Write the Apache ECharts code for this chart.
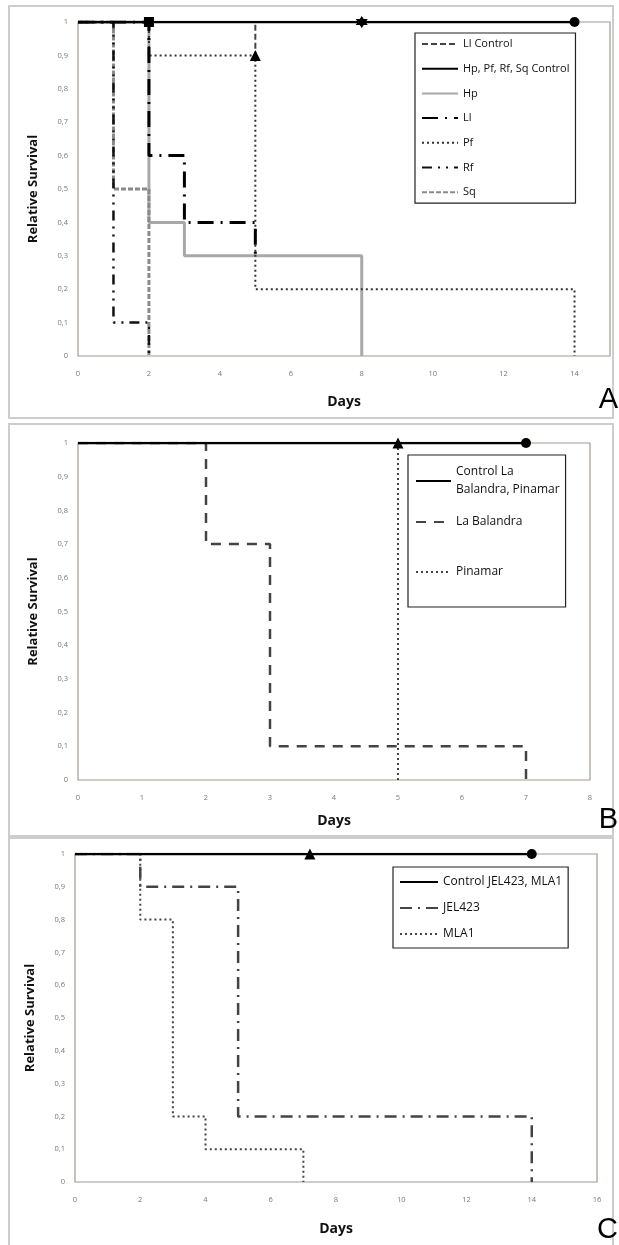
<!DOCTYPE html>
<html>
    <head>
        <meta charset="utf-8">
        <script src="https://cdn.jsdelivr.net/npm/echarts@6/dist/echarts.min.js"></script>
    </head>
    <body style="margin:0">
        <style>
            html, body, #main {
                width: 619px;
                height: 1245px;
                background: #fff;
            }
        </style>
        <div id="main"></div>
        <script>
            // y tick labels (comma decimals, as in the figure)
            var yTickLabels = ['0', '0,1', '0,2', '0,3', '0,4', '0,5', '0,6', '0,7', '0,8', '0,9', '1'];

            // Panel A  [day, relative survival]
            var aNames = ['Ll Control', 'Hp, Pf, Rf, Sq Control', 'Hp', 'Ll', 'Pf', 'Rf', 'Sq'];
            var aLlControl = [[0, 1], [5, 0.9]];
            var aControl = [[0, 1], [2, 1], [8, 1], [14, 1]];
            var aHp = [[0, 1], [2, 0.4], [3, 0.3], [8, 0]];
            var aLl = [[0, 1], [2, 0.6], [3, 0.4], [5, 0.3]];
            var aPf = [[0, 1], [2, 0.9], [5, 0.2], [14, 0]];
            var aRf = [[0, 1], [1, 0.1], [2, 0]];
            var aSq = [[0, 1], [1, 0.5], [2, 0]];

            // Panel B
            var bNames = ['Control La Balandra, Pinamar', 'La Balandra', 'Pinamar'];
            var bControl = [[0, 1], [5, 1], [7, 1]];
            var bBalandra = [[0, 1], [2, 0.7], [3, 0.1], [7, 0]];
            var bPinamar = [[0, 1], [5, 0]];

            // Panel C
            var cNames = ['Control JEL423, MLA1', 'JEL423', 'MLA1'];
            var cControl = [[0, 1], [7.2, 1], [14, 1]];
            var cJel = [[0, 1], [2, 0.9], [5, 0.2], [14, 0]];
            var cMla = [[0, 1], [2, 0.8], [3, 0.2], [4, 0.1], [7, 0]];

            var star6 = 'path://M0,-10L2.9,-5L8.7,-5L5.8,0L8.7,5L2.9,5L0,10L-2.9,5L-8.7,5L-5.8,0L-8.7,-5L-2.9,-5Z';

            // marks: {pointIndex: [symbol, size]}
            function withMarks(points, marks) {
                return points.map(function (p, i) {
                    var m = marks && marks[i];
                    if (!m) {
                        return {value: p, symbol: 'none'};
                    }
                    return {value: p, symbol: m[0], symbolSize: m[1], itemStyle: {color: '#000'}};
                });
            }

            function line(name, gi, points, style, marks) {
                return {
                    type: 'line',
                    name: name,
                    xAxisIndex: gi,
                    yAxisIndex: gi,
                    step: 'end',
                    symbol: 'none',
                    showSymbol: true,
                    color: style.color,
                    lineStyle: style,
                    data: withMarks(points, marks),
                    silent: true
                };
            }

            var grids = [
                {left: 78, top: 22, width: 532, height: 334},
                {left: 78, top: 443, width: 512, height: 337},
                {left: 75, top: 854, width: 522, height: 328}
            ];
            var xMax = [15, 8, 16];
            var xStep = [2, 1, 2];
            var nameGapX = [39, 34, 40];

            var chart = echarts.init(document.getElementById('main'), null, {renderer: 'canvas'});

            var labelFont = {color: '#777', fontSize: 7.5, fontFamily: 'Open Sans'};
            var nameFont = {color: '#111', fontSize: 14, fontWeight: 'bold', fontFamily: 'Open Sans'};
            // hide the symbol that ECharts puts in the middle of line legend icons
            var noLegendSymbol = {color: 'rgba(0,0,0,0)', borderWidth: 0, opacity: 0};

            chart.setOption({
                animation: false,
                grid: grids.map(function (g) {
                    return Object.assign({show: true, borderColor: '#a49a92', borderWidth: 1.2, backgroundColor: '#fff'}, g);
                }),
                xAxis: grids.map(function (g, i) {
                    return {
                        type: 'value',
                        gridIndex: i,
                        min: 0,
                        max: xMax[i],
                        interval: xStep[i],
                        name: 'Days',
                        nameLocation: 'middle',
                        nameGap: nameGapX[i],
                        nameTextStyle: nameFont,
                        axisLine: {show: false},
                        axisTick: {show: false},
                        splitLine: {show: false},
                        axisLabel: Object.assign({margin: 14, showMaxLabel: xMax[i] % xStep[i] === 0}, labelFont)
                    };
                }),
                yAxis: grids.map(function (g, i) {
                    return {
                        type: 'value',
                        gridIndex: i,
                        min: 0,
                        max: 1,
                        interval: 0.1,
                        name: 'Relative Survival',
                        nameLocation: 'middle',
                        nameGap: 38,
                        nameTextStyle: Object.assign({}, nameFont, {fontSize: 13}),
                        axisLine: {show: false},
                        axisTick: {show: false},
                        splitLine: {show: false},
                        axisLabel: Object.assign({
                            margin: 10,
                            formatter: function (v) {
                                return yTickLabels[Math.round(v * 10)];
                            }
                        }, labelFont)
                    };
                }),
                legend: [
                    {
                        data: aNames,
                        orient: 'vertical',
                        left: 415,
                        top: 33,
                        padding: [4, 6, 4, 6],
                        itemGap: 10.7,
                        itemWidth: 36,
                        itemHeight: 14,
                        itemStyle: noLegendSymbol,
                        borderColor: '#222',
                        borderWidth: 1.2,
                        backgroundColor: '#fff',
                        selectedMode: false,
                        textStyle: {color: '#111', fontSize: 11, lineHeight: 14, fontFamily: 'Open Sans'}
                    },
                    {
                        data: [
                            {name: bNames[0], textStyle: {lineHeight: 18}},
                            {name: bNames[1], textStyle: {lineHeight: 36}},
                            {name: bNames[2], textStyle: {lineHeight: 54}}
                        ],
                        formatter: function (name) {
                            return name === bNames[0] ? 'Control La\nBalandra, Pinamar' : name;
                        },
                        orient: 'vertical',
                        left: 408,
                        top: 455,
                        padding: [8, 6, 8, 7],
                        itemGap: 5,
                        itemWidth: 35,
                        itemHeight: 14,
                        itemStyle: noLegendSymbol,
                        borderColor: '#222',
                        borderWidth: 1.2,
                        backgroundColor: '#fff',
                        selectedMode: false,
                        textStyle: {color: '#111', fontSize: 12, fontFamily: 'Open Sans'}
                    },
                    {
                        data: cNames,
                        orient: 'vertical',
                        left: 393,
                        top: 867,
                        padding: [8, 6, 7, 6],
                        itemGap: 12,
                        itemWidth: 38,
                        itemHeight: 14,
                        itemStyle: noLegendSymbol,
                        borderColor: '#222',
                        borderWidth: 1.2,
                        backgroundColor: '#fff',
                        selectedMode: false,
                        textStyle: {color: '#111', fontSize: 12, lineHeight: 14, fontFamily: 'Open Sans'}
                    }
                ],
                graphic: [
                    {type: 'rect', shape: {x: 9, y: 6, width: 604, height: 412}, style: {fill: null, stroke: '#cdcdcd', lineWidth: 2}, z: -10},
                    {type: 'rect', shape: {x: 9, y: 424, width: 604, height: 412}, style: {fill: null, stroke: '#cdcdcd', lineWidth: 2}, z: -10},
                    {type: 'rect', shape: {x: 9, y: 838, width: 604, height: 412}, style: {fill: null, stroke: '#cdcdcd', lineWidth: 2}, z: -10},
                    {type: 'text', style: {text: 'A', x: 618, y: 414, align: 'right', verticalAlign: 'bottom', fontSize: 29, fontFamily: 'Liberation Sans', fill: '#000'}},
                    {type: 'text', style: {text: 'B', x: 618, y: 834, align: 'right', verticalAlign: 'bottom', fontSize: 29, fontFamily: 'Liberation Sans', fill: '#000'}},
                    {type: 'text', style: {text: 'C', x: 618, y: 1244, align: 'right', verticalAlign: 'bottom', fontSize: 29, fontFamily: 'Liberation Sans', fill: '#000'}}
                ],
                series: [
                    // A
                    line(aNames[2], 0, aHp, {color: '#a8a8a8', width: 3, type: 'solid'}),
                    line(aNames[6], 0, aSq, {color: '#8a8a8a', width: 3, type: [5, 2]}),
                    line(aNames[4], 0, aPf, {color: '#333', width: 2, type: [2, 3]}),
                    line(aNames[5], 0, aRf, {color: '#111', width: 2.5, type: [10, 6, 2, 6, 2, 6]}),
                    line(aNames[3], 0, aLl, {color: '#000', width: 3, type: [16, 7, 2, 7]}),
                    line(aNames[0], 0, aLlControl, {color: '#444', width: 2, type: [6, 3]}, {1: ['triangle', 11]}),
                    line(aNames[1], 0, aControl, {color: '#000', width: 2.5, type: 'solid'}, {1: ['rect', 10], 2: [star6, 12], 3: ['circle', 10]}),
                    // B
                    line(bNames[1], 1, bBalandra, {color: '#444', width: 2.5, type: [10, 8]}),
                    line(bNames[2], 1, bPinamar, {color: '#444', width: 2, type: [2, 3]}),
                    line(bNames[0], 1, bControl, {color: '#000', width: 2.5, type: 'solid'}, {1: ['triangle', 11], 2: ['circle', 10]}),
                    // C
                    line(cNames[2], 2, cMla, {color: '#444', width: 2, type: [2, 3]}),
                    line(cNames[1], 2, cJel, {color: '#444', width: 2.5, type: [12, 6, 2, 6]}),
                    line(cNames[0], 2, cControl, {color: '#000', width: 2.5, type: 'solid'}, {1: ['triangle', 11], 2: ['circle', 10]})
                ]
            });
        </script>
    </body>
</html>
